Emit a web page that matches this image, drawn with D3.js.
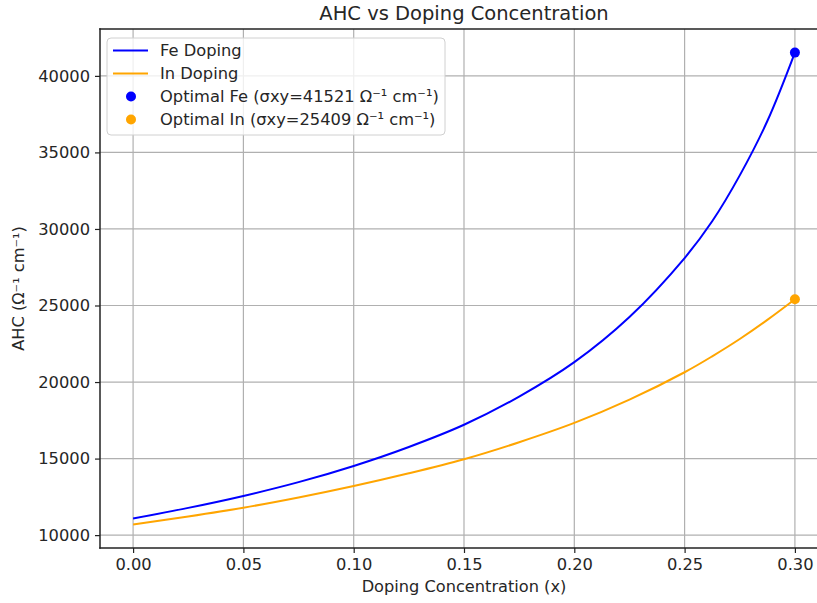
<!DOCTYPE html>
<html>
<head>
<meta charset="utf-8">
<script src="https://cdn.jsdelivr.net/npm/d3@7"></script>
<style>
  body { margin: 0; background: #fff; overflow: hidden; }
  svg { display: block; }
  text { font-family: "DejaVu Sans", sans-serif; fill: #262626; }
</style>
</head>
<body>
<script>
// values
const doping = [0, 0.025, 0.05, 0.075, 0.10, 0.125, 0.15, 0.175, 0.20, 0.225, 0.25, 0.2625, 0.275, 0.2875, 0.30];
const feAHC = [11080, 11780, 12560, 13460, 14520, 15760, 17210, 19050, 21300, 24250, 28100, 30500, 33500, 37050, 41521];
const inAHC = [10700, 11220, 11790, 12460, 13210, 14040, 14960, 16070, 17330, 18850, 20640, 21680, 22810, 24060, 25409];
const optimal = [
    { name: "Optimal Fe (σxy=41521 Ω⁻¹ cm⁻¹)", x: 0.30, y: 41521, color: "#0000ff" },
    { name: "Optimal In (σxy=25409 Ω⁻¹ cm⁻¹)", x: 0.30, y: 25409, color: "#ffa500" }
];
const xTicks = [0, 0.05, 0.10, 0.15, 0.20, 0.25, 0.30];
const yTicks = [10000, 15000, 20000, 25000, 30000, 35000, 40000];

const width = 817, height = 603;
const margin = { top: 29, bottom: 55, left: 100, right: -11 };
const plotRight = width - margin.right;
const plotBottom = height - margin.bottom;

const svg = d3.select('body').append('svg')
    .attr('width', width)
    .attr('height', height);

const xscale = d3.scaleLinear().domain([-0.015, 0.315]).range([margin.left, plotRight]);
const yscale = d3.scaleLinear().domain([9159, 43062]).range([plotBottom, margin.top]);

// grid
svg.append('g').selectAll('line').data(xTicks).join('line')
    .attr('x1', d => xscale(d)).attr('x2', d => xscale(d))
    .attr('y1', margin.top).attr('y2', plotBottom)
    .attr('stroke', '#b0b0b0').attr('stroke-width', 1.2);
svg.append('g').selectAll('line').data(yTicks).join('line')
    .attr('y1', d => yscale(d)).attr('y2', d => yscale(d))
    .attr('x1', margin.left).attr('x2', plotRight)
    .attr('stroke', '#b0b0b0').attr('stroke-width', 1.2);

// curves
const line = d3.line()
    .x((d, i) => xscale(doping[i]))
    .y(d => yscale(d))
    .curve(d3.curveCatmullRom.alpha(0.5));

svg.append('path').datum(feAHC).attr('d', line)
    .attr('fill', 'none').attr('stroke', '#0000ff').attr('stroke-width', 2);
svg.append('path').datum(inAHC).attr('d', line)
    .attr('fill', 'none').attr('stroke', '#ffa500').attr('stroke-width', 2);

svg.append('g').selectAll('circle').data(optimal).join('circle')
    .attr('cx', d => xscale(d.x)).attr('cy', d => yscale(d.y))
    .attr('r', 5).attr('fill', d => d.color);

// axes
const xaxis = d3.axisBottom(xscale).tickValues(xTicks).tickFormat(d3.format('.2f')).tickSize(5).tickPadding(5);
const yaxis = d3.axisLeft(yscale).tickValues(yTicks).tickFormat(d3.format('d')).tickSize(5).tickPadding(5);

const gx = svg.append('g').attr('transform', `translate(0,${plotBottom})`).call(xaxis);
const gy = svg.append('g').attr('transform', `translate(${margin.left},0)`).call(yaxis);
[gx, gy].forEach(g => {
    g.select('.domain').remove();
    g.selectAll('.tick line').attr('stroke', '#222').attr('stroke-width', 1.2);
    g.selectAll('.tick text').attr('font-size', 16.3).attr('font-family', '"DejaVu Sans", sans-serif').attr('fill', '#262626');
});

// spines (right one falls outside the picture)
const spines = [
    [margin.left, margin.top, plotRight, margin.top],
    [margin.left, plotBottom, plotRight, plotBottom],
    [margin.left, margin.top, margin.left, plotBottom]
];
svg.append('g').selectAll('line').data(spines).join('line')
    .attr('x1', d => d[0]).attr('y1', d => d[1])
    .attr('x2', d => d[2]).attr('y2', d => d[3])
    .attr('stroke', '#222').attr('stroke-width', 1.5).attr('stroke-linecap', 'square');

// labels
svg.append('text').attr('x', xscale(0.15)).attr('y', 20)
    .attr('text-anchor', 'middle').attr('font-size', 19.5)
    .text('AHC vs Doping Concentration');
svg.append('text').attr('x', xscale(0.15)).attr('y', 592)
    .attr('text-anchor', 'middle').attr('font-size', 16.2)
    .text('Doping Concentration (x)');
svg.append('text')
    .attr('transform', `translate(24,${(margin.top + plotBottom) / 2}) rotate(-90)`)
    .attr('text-anchor', 'middle').attr('font-size', 16.2)
    .text('AHC (Ω⁻¹ cm⁻¹)');

// legend
const legendItems = [
    { name: 'Fe Doping', color: '#0000ff', type: 'line' },
    { name: 'In Doping', color: '#ffa500', type: 'line' },
    ...optimal.map(d => ({ name: d.name, color: d.color, type: 'dot' }))
];
const lg = svg.append('g').attr('transform', 'translate(107,38)');
lg.append('rect').attr('width', 338).attr('height', 97).attr('rx', 4)
    .attr('fill', 'rgba(255,255,255,0.8)').attr('stroke', '#d0d0d0');
const row = lg.selectAll('g.row').data(legendItems).join('g')
    .attr('class', 'row')
    .attr('transform', (d, i) => `translate(0,${12.5 + i * 23})`);
row.filter(d => d.type === 'line').append('line')
    .attr('x1', 6).attr('x2', 41).attr('stroke', d => d.color).attr('stroke-width', 2);
row.filter(d => d.type === 'dot').append('circle')
    .attr('cx', 24).attr('r', 5).attr('fill', d => d.color);
row.append('text').attr('x', 53).attr('dy', '0.35em').attr('font-size', 16.3)
    .text(d => d.name);
</script>
</body>
</html>
